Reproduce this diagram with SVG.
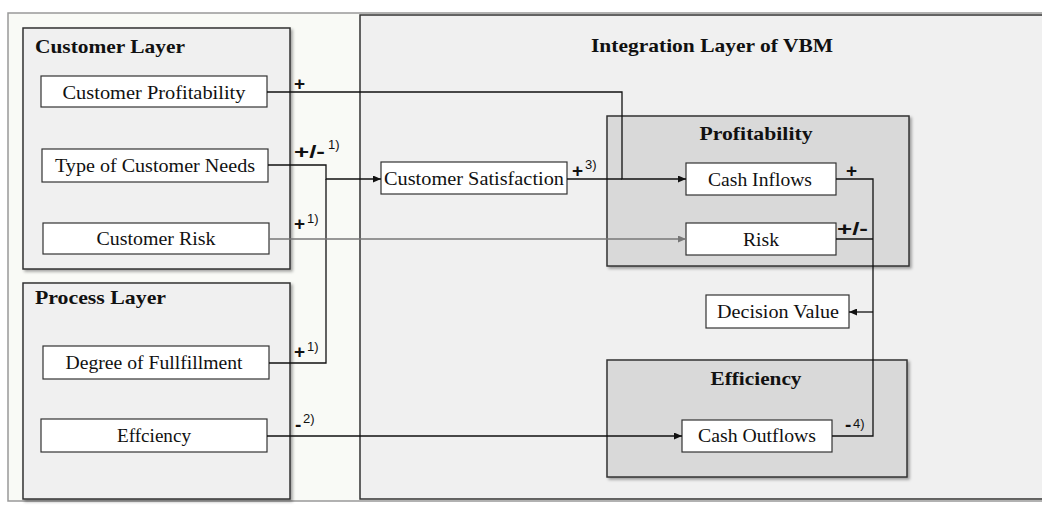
<svg xmlns="http://www.w3.org/2000/svg" width="1042" height="506" viewBox="0 0 1042 506">
<defs>
<filter id="sh" x="-5%" y="-5%" width="115%" height="115%"><feDropShadow dx="2" dy="2" stdDeviation="1.5" flood-color="#000" flood-opacity="0.35"/></filter>
<marker id="ar" viewBox="0 0 8 7" refX="8" refY="3.5" markerWidth="8" markerHeight="7" markerUnits="userSpaceOnUse" orient="auto"><path d="M0,0 L8,3.5 L0,7 z" fill="#111"/></marker>
<marker id="arg" viewBox="0 0 8 7" refX="8" refY="3.5" markerWidth="8" markerHeight="7" markerUnits="userSpaceOnUse" orient="auto"><path d="M0,0 L8,3.5 L0,7 z" fill="#777"/></marker>
</defs>
<style>
.layer{fill:#f0f0f0;stroke:#333;stroke-width:1.5}
.sub{fill:#d9d9d9;stroke:#333;stroke-width:1.5}
.node{fill:#fff;stroke:#333;stroke-width:1.2}
.t{font-family:"Liberation Serif",serif;font-size:18px;fill:#111}
.h{font-family:"Liberation Serif",serif;font-size:19px;font-weight:bold;fill:#111}
.s{font-family:"Liberation Sans",Arial,sans-serif;font-size:19px;font-weight:bold;fill:#111}
.sup{font-family:"Liberation Sans",Arial,sans-serif;font-size:13px;fill:#111}
.c{fill:none;stroke:#111;stroke-width:1.3}
.cg{fill:none;stroke:#777;stroke-width:1.3}
</style>
<rect x="0" y="0" width="1042" height="506" fill="#fff"/>
<rect x="8" y="13" width="1045" height="488" fill="#f9faf6" stroke="#999" stroke-width="1.5"/>
<g id="integration-layer">
<rect x="360" y="15" width="700" height="484" class="layer"/>
<text x="712" y="52" class="h" text-anchor="middle" textLength="242" lengthAdjust="spacingAndGlyphs">Integration Layer of VBM</text>
</g>
<g id="customer-layer">
<rect x="23" y="28" width="267" height="241" class="layer" filter="url(#sh)"/>
<text x="35" y="53" class="h" textLength="150" lengthAdjust="spacingAndGlyphs">Customer Layer</text>
</g>
<g id="process-layer">
<rect x="23" y="283" width="267" height="216" class="layer" filter="url(#sh)"/>
<text x="35" y="304" class="h" textLength="131" lengthAdjust="spacingAndGlyphs">Process Layer</text>
</g>
<g id="profitability">
<rect x="607" y="116" width="302" height="150" class="sub" filter="url(#sh)"/>
<text x="756" y="140" class="h" text-anchor="middle" textLength="113" lengthAdjust="spacingAndGlyphs">Profitability</text>
</g>
<g id="efficiency">
<rect x="607" y="360" width="300" height="117" class="sub" filter="url(#sh)"/>
<text x="756" y="385" class="h" text-anchor="middle" textLength="91" lengthAdjust="spacingAndGlyphs">Efficiency</text>
</g>
<g id="customer-profitability">
<rect x="41" y="76" width="226" height="31" class="node"/>
<text x="154" y="99" class="t" text-anchor="middle" textLength="183" lengthAdjust="spacingAndGlyphs">Customer Profitability</text>
</g>
<g id="type-of-customer-needs">
<rect x="42" y="149" width="226" height="33" class="node"/>
<text x="155" y="172" class="t" text-anchor="middle" textLength="200" lengthAdjust="spacingAndGlyphs">Type of Customer Needs</text>
</g>
<g id="customer-risk">
<rect x="43" y="223" width="226" height="31" class="node"/>
<text x="156" y="245" class="t" text-anchor="middle" textLength="119" lengthAdjust="spacingAndGlyphs">Customer Risk</text>
</g>
<g id="degree-of-fullfillment">
<rect x="43" y="346" width="226" height="33" class="node"/>
<text x="154" y="369" class="t" text-anchor="middle" textLength="177" lengthAdjust="spacingAndGlyphs">Degree of Fullfillment</text>
</g>
<g id="effciency">
<rect x="41" y="419" width="226" height="33" class="node"/>
<text x="154" y="442" class="t" text-anchor="middle" textLength="74" lengthAdjust="spacingAndGlyphs">Effciency</text>
</g>
<g id="customer-satisfaction">
<rect x="381" y="162" width="186" height="32" class="node"/>
<text x="474" y="185" class="t" text-anchor="middle" textLength="180" lengthAdjust="spacingAndGlyphs">Customer Satisfaction</text>
</g>
<g id="cash-inflows">
<rect x="686" y="163" width="150" height="32" class="node"/>
<text x="760" y="186" class="t" text-anchor="middle" textLength="104" lengthAdjust="spacingAndGlyphs">Cash Inflows</text>
</g>
<g id="risk">
<rect x="686" y="223" width="150" height="32" class="node"/>
<text x="761" y="246" class="t" text-anchor="middle" textLength="36" lengthAdjust="spacingAndGlyphs">Risk</text>
</g>
<g id="decision-value">
<rect x="706" y="295" width="143" height="33" class="node"/>
<text x="778" y="318" class="t" text-anchor="middle" textLength="122" lengthAdjust="spacingAndGlyphs">Decision Value</text>
</g>
<g id="cash-outflows">
<rect x="682" y="420" width="150" height="32" class="node"/>
<text x="757" y="442" class="t" text-anchor="middle" textLength="118" lengthAdjust="spacingAndGlyphs">Cash Outflows</text>
</g>
<g id="connectors">
<path class="c" d="M267,92 H622 V179 H686" marker-end="url(#ar)"/>
<path class="c" d="M567,179 H622"/>
<path class="c" d="M268,165 H326 V179 H381" marker-end="url(#ar)"/>
<path class="c" d="M269,363 H326 V179"/>
<path class="cg" d="M269,239 H686" marker-end="url(#arg)"/>
<path class="c" d="M267,436 H682" marker-end="url(#ar)"/>
<path class="c" d="M836,179 H873 V436 H832"/>
<path class="c" d="M836,239 H873"/>
<path class="c" d="M873,312 H849" marker-end="url(#ar)"/>
</g>
<g id="labels">
<text x="294" y="90" class="s">+</text>
<text x="294" y="158" class="s" textLength="31" lengthAdjust="spacingAndGlyphs">+/-</text><text x="328" y="149" class="sup">1)</text>
<text x="294" y="230" class="s">+</text><text x="307" y="223" class="sup">1)</text>
<text x="294" y="358" class="s">+</text><text x="307" y="351" class="sup">1)</text>
<text x="295" y="431" class="s">-</text><text x="303" y="423" class="sup">2)</text>
<text x="572" y="177" class="s">+</text><text x="585" y="169" class="sup">3)</text>
<text x="846" y="177" class="s">+</text>
<text x="837" y="235" class="s" textLength="31" lengthAdjust="spacingAndGlyphs">+/-</text>
<text x="845" y="431" class="s">-</text><text x="853" y="428" class="sup">4)</text>
</g>
</svg>
